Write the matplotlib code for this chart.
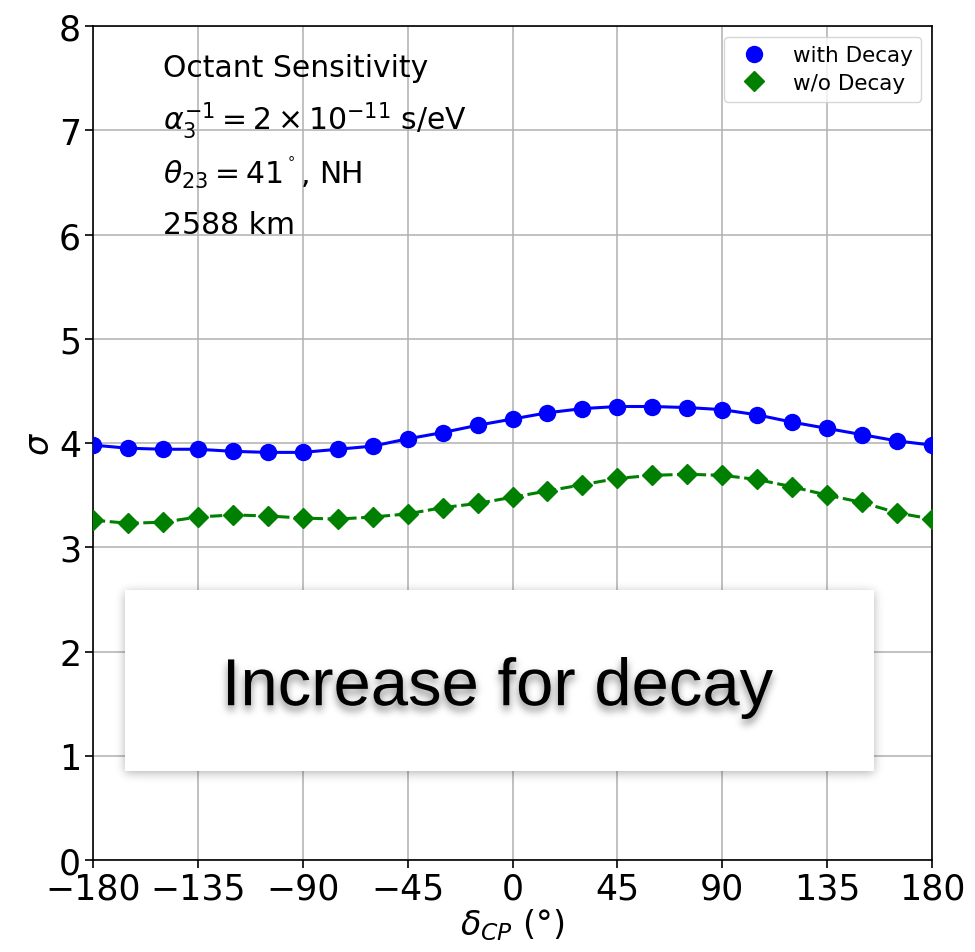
import numpy as np
import matplotlib
matplotlib.use("Agg")
import matplotlib.pyplot as plt
from matplotlib.lines import Line2D
from matplotlib.patches import PathPatch, Rectangle
from matplotlib.textpath import TextPath
from matplotlib.font_manager import FontProperties
from matplotlib.transforms import Affine2D

# delta_CP grid (degrees)
delta_cp = [-180, -165, -150, -135, -120, -105, -90, -75, -60, -45, -30, -15,
            0, 15, 30, 45, 60, 75, 90, 105, 120, 135, 150, 165, 180]

# Octant sensitivity (sigma)
sigma_with_decay = [3.98, 3.95, 3.94, 3.94, 3.92, 3.91, 3.91, 3.94, 3.97, 4.04,
                    4.10, 4.17, 4.23, 4.29, 4.33, 4.35, 4.35, 4.34, 4.32, 4.27,
                    4.20, 4.14, 4.08, 4.02, 3.98]
sigma_without_decay = [3.26, 3.23, 3.24, 3.29, 3.31, 3.30, 3.28, 3.27, 3.29, 3.32,
                       3.38, 3.42, 3.48, 3.54, 3.60, 3.66, 3.69, 3.70, 3.69, 3.65,
                       3.58, 3.50, 3.43, 3.33, 3.27]

xticks = [-180, -135, -90, -45, 0, 45, 90, 135, 180]
yticks = [0, 1, 2, 3, 4, 5, 6, 7, 8]

info_lines = ["Octant Sensitivity",
              r"$\alpha_3^{-1} = 2 \times 10^{-11}$ s/eV",
              r"$\theta_{23} = 41^{^\circ}$, NH",
              "2588 km"]
info_y = [7.6, 7.1, 6.6, 6.1]

banner_text = "Increase for decay"

W, H, DPI = 975, 953, 100
fig = plt.figure(figsize=(W / DPI, H / DPI), dpi=DPI)
ax = fig.add_axes([93 / W, 1 - 861 / H, (932 - 93) / W, (861 - 27) / H])

ax.plot(delta_cp, sigma_with_decay, color="blue", lw=2.2, ls="-",
        marker="o", ms=11.5, zorder=3)
ax.plot(delta_cp, sigma_without_decay, color="green", lw=2.2, ls="--",
        dashes=(4, 1.5), marker="D", ms=10.5, zorder=3)

ax.set_xlim(-180, 180)
ax.set_ylim(0, 8)
ax.set_xticks(xticks)
ax.set_yticks(yticks)
ax.tick_params(labelsize=25, length=5.5, width=1.2, pad=3)
ax.grid(True, color="#b0b0b0", lw=1.1)
ax.set_axisbelow(True)
for sp in ax.spines.values():
    sp.set_linewidth(1.2)

ax.set_xlabel(r"$\delta_{CP}$ (°)", fontsize=24, labelpad=0)
ax.set_ylabel(r"$\sigma$", fontsize=24, labelpad=2)

for txt, yy in zip(info_lines, info_y):
    ax.text(-150, yy, txt, fontsize=21.5, va="center", ha="left")

handles = [Line2D([], [], color="blue", marker="o", ls="none", ms=11.5),
           Line2D([], [], color="green", marker="D", ls="none", ms=10.5)]
ax.legend(handles, ["with Decay", "w/o Decay"], loc="upper right",
          fontsize=15.5, handletextpad=0.8, borderpad=0.4, labelspacing=0.35)


# soft shadow via an agg filter (separable gaussian blur)
def _gauss_blur(a, sigma):
    r = int(3 * sigma)
    k = np.exp(-0.5 * (np.arange(-r, r + 1) / sigma) ** 2)
    k /= k.sum()
    a = np.apply_along_axis(lambda v: np.convolve(v, k, mode="same"), 0, a)
    a = np.apply_along_axis(lambda v: np.convolve(v, k, mode="same"), 1, a)
    return a


class ShadowFilter:
    def __init__(self, sigma_px, alpha, dx=0, dy=0):
        self.sigma = sigma_px
        self.alpha = alpha
        self.dx = dx
        self.dy = dy

    def __call__(self, im, dpi):
        pad = int(3 * self.sigma) + max(abs(self.dx), abs(self.dy)) + 2
        src = np.pad(im, [(pad, pad), (pad, pad), (0, 0)], "constant")
        a = _gauss_blur(src[:, :, 3] * self.alpha, self.sigma)
        a = np.roll(a, self.dx, axis=1)
        a = np.roll(a, self.dy, axis=0)
        out = np.zeros_like(src)
        out[:, :, 3] = a
        return out, -pad, -pad


# banner box (pixel coordinates, origin bottom-left)
bx0, bx1 = 125, 874
by0, by1 = H - 772, H - 591
pix = Affine2D()
box_shadow = Rectangle((bx0, by0), bx1 - bx0, by1 - by0, transform=pix,
                       facecolor="black", edgecolor="none", zorder=10)
box_shadow.set_agg_filter(ShadowFilter(5, 0.3, 0, 2))
fig.add_artist(box_shadow)
box = Rectangle((bx0, by0), bx1 - bx0, by1 - by0, transform=pix,
                facecolor="white", edgecolor="none", zorder=11)
fig.add_artist(box)

# condensed banner text, mapped onto its target extent
tp = TextPath((0, 0), banner_text, size=100,
              prop=FontProperties(family="Liberation Sans"))
ext = tp.get_extents()
tx0, tx1 = 228, 773
ty0, ty1 = H - 720, H - 658
sx = (tx1 - tx0) / ext.width
sy = (ty1 - ty0) / ext.height
tr = Affine2D().translate(-ext.x0, -ext.y0).scale(sx, sy).translate(tx0, ty0)

txt_shadow = PathPatch(tp, transform=tr, facecolor="black", edgecolor="none",
                       zorder=12)
txt_shadow.set_agg_filter(ShadowFilter(4, 0.5, 0, 5))
fig.add_artist(txt_shadow)
txt = PathPatch(tp, transform=tr, facecolor="black", edgecolor="none",
                zorder=13)
fig.add_artist(txt)

fig.savefig("out.png", dpi=DPI)
